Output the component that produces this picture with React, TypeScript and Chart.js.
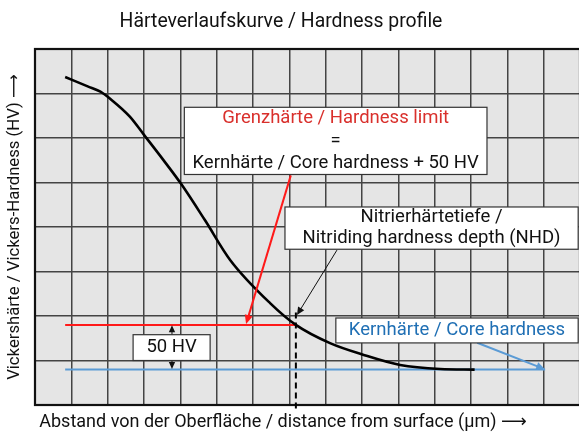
import React, { useEffect, useRef } from "react";
import { Chart, registerables } from "chart.js";

Chart.register(...registerables);

// Hardness curve (x in grid units of depth, y in HV; one grid row = 50 HV)
const depthValues = [0.83, 1.45, 1.8, 2.1, 2.61, 3.01, 3.52, 4.02, 4.68, 5.37, 6.47, 7.18, 8.12, 9.03, 10.05, 11.15, 12.1];
const hardnessValues = [368.5, 358, 352, 343, 324, 303, 276, 248.5, 207.5, 163, 114.5, 90, 69.5, 56.5, 45, 40.5, 39.8];
const coreHardness = 40;
const hardnessLimit = coreHardness + 50;
const nhdDepth = 7.18;
const lineStart = 0.83;
const coreLineEnd = 14.04;
const xMax = 15;
const yMax = 400;
const yStep = 50;

const FONT = "Roboto, 'DejaVu Sans', sans-serif";

type Box = { x1: number; x2: number; y1: number; y2: number };

function drawArrow(ctx: CanvasRenderingContext2D, x1: number, y1: number, x2: number, y2: number, color: string, width: number, head: number) {
  const ang = Math.atan2(y2 - y1, x2 - x1);
  ctx.save();
  ctx.strokeStyle = color;
  ctx.fillStyle = color;
  ctx.lineWidth = width;
  ctx.beginPath();
  ctx.moveTo(x1, y1);
  ctx.lineTo(x2 - Math.cos(ang) * head * 0.6, y2 - Math.sin(ang) * head * 0.6);
  ctx.stroke();
  ctx.beginPath();
  ctx.moveTo(x2, y2);
  ctx.lineTo(x2 - head * Math.cos(ang) + (head * 0.45) * Math.sin(ang), y2 - head * Math.sin(ang) - (head * 0.45) * Math.cos(ang));
  ctx.lineTo(x2 - head * Math.cos(ang) - (head * 0.45) * Math.sin(ang), y2 - head * Math.sin(ang) + (head * 0.45) * Math.cos(ang));
  ctx.closePath();
  ctx.fill();
  ctx.restore();
}

const bgPlugin = {
  id: "bgPlugin",
  beforeDraw(chart: any) {
    const { ctx, chartArea } = chart;
    ctx.save();
    ctx.fillStyle = "#ffffff";
    ctx.fillRect(0, 0, chart.width, chart.height);
    ctx.fillStyle = "#e5e5e5";
    ctx.fillRect(chartArea.left, chartArea.top, chartArea.right - chartArea.left, chartArea.bottom - chartArea.top);
    ctx.restore();
  },
};

const annotationPlugin = {
  id: "annotationPlugin",
  afterDraw(chart: any) {
    const { ctx, chartArea } = chart;
    const xs = chart.scales.x;
    const ys = chart.scales.y;
    const px = (v: number) => xs.getPixelForValue(v);
    const py = (v: number) => ys.getPixelForValue(v);

    // frame
    ctx.save();
    ctx.strokeStyle = "#111";
    ctx.lineWidth = 2.2;
    ctx.strokeRect(chartArea.left, chartArea.top, chartArea.right - chartArea.left, chartArea.bottom - chartArea.top);
    ctx.restore();

    // dashed NHD line
    ctx.save();
    ctx.strokeStyle = "#000";
    ctx.lineWidth = 2;
    ctx.setLineDash([6, 4]);
    ctx.beginPath();
    ctx.moveTo(px(nhdDepth), py(104));
    ctx.lineTo(px(nhdDepth), py(-7.5));
    ctx.stroke();
    ctx.restore();

    const drawBox = (b: Box) => {
      const x = px(b.x1), y = py(b.y1), w = px(b.x2) - x, h = py(b.y2) - y;
      ctx.save();
      ctx.fillStyle = "#fff";
      ctx.fillRect(x, y, w, h);
      ctx.strokeStyle = "#333";
      ctx.lineWidth = 1.2;
      ctx.strokeRect(x, y, w, h);
      ctx.restore();
      return { cx: x + w / 2, cy: y + h / 2 };
    };
    const text = (s: string, x: number, y: number, color: string, size = 18.5) => {
      ctx.save();
      ctx.fillStyle = color;
      ctx.font = `${size}px ${FONT}`;
      ctx.textAlign = "center";
      ctx.textBaseline = "middle";
      ctx.fillText(s, x, y);
      ctx.restore();
    };

    // arrows
    drawArrow(ctx, px(7.04), py(258), px(5.81), py(91), "#ff1a1a", 2, 9);
    drawArrow(ctx, px(8.31), py(174), px(7.21), py(101), "#111", 1, 8);
    drawArrow(ctx, px(12.17), py(70), px(coreLineEnd), py(coreHardness), "#5b9bd5", 2, 9);
    drawArrow(ctx, px(3.77), py(79), px(3.77), py(hardnessLimit - 0.5), "#111", 1, 7);
    drawArrow(ctx, px(3.77), py(50), px(3.77), py(coreHardness + 0.5), "#111", 1, 7);

    // boxes
    const g = drawBox({ x1: 4.11, x2: 12.44, y1: 334.5, y2: 259 });
    text("Grenzhärte / Hardness limit", g.cx, g.cy - 22.5, "#d9302c");
    text("=", g.cx, g.cy, "#111");
    text("Kernhärte / Core hardness + 50 HV", g.cx, g.cy + 22.5, "#111");

    const n = drawBox({ x1: 6.88, x2: 14.95, y1: 222.5, y2: 175 });
    text("Nitrierhärtetiefe /", n.cx, n.cy - 10.5, "#111");
    text("Nitriding hardness depth (NHD)", n.cx, n.cy + 10.5, "#111");

    const k = drawBox({ x1: 8.28, x2: 14.95, y1: 97.75, y2: 69.75 });
    text("Kernhärte / Core hardness", k.cx, k.cy, "#1f6fb4");

    const h = drawBox({ x1: 2.7, x2: 4.82, y1: 79, y2: 50 });
    text("50 HV", h.cx, h.cy, "#111");

    // titles
    text("Härteverlaufskurve / Hardness profile", 281, 22, "#111", 19.4);
    text("Abstand von der Oberfläche / distance from surface (μm) ⟶", 283, 422, "#111", 18);
    ctx.save();
    ctx.translate(15, (chartArea.top + chartArea.bottom) / 2);
    ctx.rotate(-Math.PI / 2);
    text("Vickershärte / Vickers-Hardness (HV) ⟶", 0, 0, "#111", 16.7);
    ctx.restore();
  },
};

export default function App() {
  const ref = useRef<HTMLCanvasElement | null>(null);
  useEffect(() => {
    if (!ref.current) return;
    const chart = new Chart(ref.current, {
      type: "line",
      data: {
        datasets: [
          {
            data: depthValues.map((x, i) => ({ x, y: hardnessValues[i] })),
            borderColor: "#000",
            borderWidth: 2.6,
            pointRadius: 0,
            cubicInterpolationMode: "monotone",
            order: 0,
          },
          {
            data: [{ x: lineStart, y: hardnessLimit }, { x: nhdDepth, y: hardnessLimit }],
            borderColor: "#ff1a1a",
            borderWidth: 2,
            pointRadius: 0,
            order: 1,
          },
          {
            data: [{ x: lineStart, y: coreHardness }, { x: coreLineEnd, y: coreHardness }],
            borderColor: "#5b9bd5",
            borderWidth: 2,
            pointRadius: 0,
            order: 2,
          },
        ],
      },
      options: {
        animation: false,
        responsive: false,
        layout: { padding: { left: 35, top: 49, right: 2, bottom: 27 } },
        plugins: { legend: { display: false }, tooltip: { enabled: false }, title: { display: false } },
        scales: {
          x: {
            type: "linear",
            min: 0,
            max: xMax,
            ticks: { display: false, stepSize: 1 },
            grid: { color: "#444", lineWidth: 1.5, drawTicks: false },
            border: { display: false },
          },
          y: {
            type: "linear",
            min: 0,
            max: yMax,
            ticks: { display: false, stepSize: yStep },
            grid: { color: "#444", lineWidth: 1.5, drawTicks: false },
            border: { display: false },
          },
        },
      },
      plugins: [bgPlugin, annotationPlugin],
    });
    return () => chart.destroy();
  }, []);
  return (
    <div style={{ position: "fixed", left: 0, top: 0, width: 579, height: 432, overflow: "hidden", background: "#fff" }}>
      <canvas ref={ref} width={582} height={432} style={{ width: 582, height: 432, display: "block" }} />
    </div>
  );
}
